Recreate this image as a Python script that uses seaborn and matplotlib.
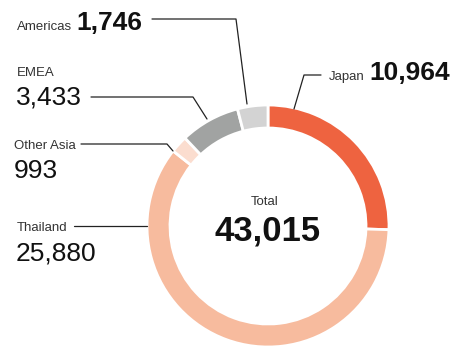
import matplotlib
matplotlib.use("Agg")
import matplotlib.pyplot as plt
import seaborn as sns
from matplotlib import font_manager

sns.set_theme(style="white")

names = {f.name for f in font_manager.fontManager.ttflist}
narrow = "Liberation Sans Narrow" if "Liberation Sans Narrow" in names else "Liberation Sans"
plt.rcParams["font.family"] = [narrow, "DejaVu Sans"]

regions = ["Japan", "Thailand", "Other Asia", "EMEA", "Americas"]
values = [10964, 25880, 993, 3433, 1746]
colors = ["#EE6340", "#F7BB9E", "#FBDDCF", "#A1A3A2", "#D3D3D3"]
total_label = "Total"
total_value = 43015

W, H = 452, 346
fig = plt.figure(figsize=(W / 100, H / 100), dpi=100)
ax = fig.add_axes([0, 0, 1, 1])

def Y(y):
    return H - y

cx, cy, R, width = 268, Y(226), 121, 23
ax.pie(values, colors=colors, startangle=90, counterclock=False,
       center=(cx, cy), radius=R, frame=True,
       wedgeprops=dict(width=width, edgecolor="white", linewidth=2))
ax.set_xlim(0, W)
ax.set_ylim(0, H)
ax.set_aspect("equal")
ax.axis("off")

lab_c = "#333333"
num_c = "#111111"
lw = 0.9
lab_fs = 9.5
num_fam = ["Liberation Sans", "DejaVu Sans"]
fmt = lambda v: f"{v:,}"
vals = dict(zip(regions, values))

# Americas
ax.text(17, Y(30), "Americas", fontsize=lab_fs, color=lab_c, ha="left", va="baseline")
ax.text(76, Y(30), fmt(vals["Americas"]), fontsize=19, fontweight="bold", color=num_c,
        ha="left", va="baseline", family=num_fam)
ax.plot([152, 236, 247], [Y(19), Y(19), Y(104)], color="#222222", lw=lw)

# Japan
ax.text(329, Y(80), "Japan", fontsize=lab_fs, color=lab_c, ha="left", va="baseline")
ax.text(369, Y(80), fmt(vals["Japan"]), fontsize=19, fontweight="bold", color=num_c,
        ha="left", va="baseline", family=num_fam)
ax.plot([321, 304, 294], [Y(75), Y(75), Y(109)], color="#222222", lw=lw)

# EMEA
ax.text(17, Y(76), "EMEA", fontsize=lab_fs, color=lab_c, ha="left", va="baseline")
ax.text(16, Y(105), fmt(vals["EMEA"]), fontsize=19, color=num_c,
        ha="left", va="baseline", family=num_fam)
ax.plot([91, 193, 207], [Y(97), Y(97), Y(119)], color="#222222", lw=lw)

# Other Asia
ax.text(14, Y(149), "Other Asia", fontsize=lab_fs, color=lab_c, ha="left", va="baseline")
ax.text(14, Y(178), fmt(vals["Other Asia"]), fontsize=19, color=num_c,
        ha="left", va="baseline", family=num_fam)
ax.plot([81, 167, 173], [Y(144), Y(144), Y(151)], color="#222222", lw=lw)

# Thailand
ax.text(17, Y(231), "Thailand", fontsize=lab_fs, color=lab_c, ha="left", va="baseline")
ax.text(16, Y(260), fmt(vals["Thailand"]), fontsize=19, color=num_c,
        ha="left", va="baseline", family=num_fam)
ax.plot([74, 147], [Y(226), Y(226)], color="#222222", lw=lw)

# Center total
ax.text(265, Y(205), total_label, fontsize=lab_fs, color=lab_c, ha="center", va="baseline")
ax.text(268, Y(241), fmt(total_value), fontsize=25, fontweight="bold", color=num_c,
        ha="center", va="baseline", family=num_fam)

fig.savefig("out.png", dpi=100, facecolor="white")
